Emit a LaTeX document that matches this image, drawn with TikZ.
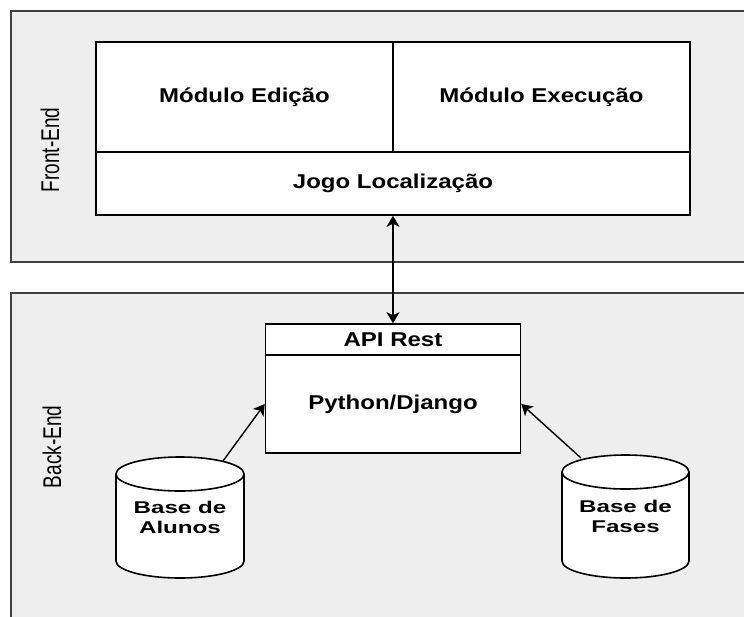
\documentclass[tikz,border=0pt]{standalone}
\usepackage{fontspec}
\usepackage{graphicx}
\setmainfont{Liberation Sans}
\usetikzlibrary{arrows.meta}
\definecolor{panelfill}{HTML}{EEEEEE}
\definecolor{panelline}{HTML}{404040}
\newcommand\wideA[1]{\scalebox{1.2}[1]{#1}}
\newcommand\wideB[1]{\scalebox{1.42}[1]{#1}}
\begin{document}
\begin{tikzpicture}[x=1pt,y=-1pt,
  panel/.style={fill=panelfill,draw=panelline,line width=1.5pt},
  box/.style={draw=black,fill=white,line width=1.6pt,inner sep=0pt,font=\bfseries\fontsize{20}{24}\selectfont},
  side/.style={inner sep=0pt,font=\fontsize{19}{22}\selectfont},
  cyl/.style={draw=black,fill=white,line width=1.6pt},
  cyltext/.style={inner sep=0pt,align=center,font=\bfseries\fontsize{17}{20}\selectfont},
  conn/.style={line width=1.4pt,draw=black},
  tip/.tip={Stealth[length=11pt,width=13pt,inset=3pt]}]
\useasboundingbox (0,0) rectangle (744,616);
\clip (0,0) rectangle (744,616);
% panels
\path[panel] (11,11) rectangle (760,262);
\path[panel] (11,293) rectangle (760,640);
\node[side] (fe) at (50,150) {\scalebox{1.35}[1]{\rotatebox{90}{Front-End}}};
\node[side] (be) at (52,447) {\scalebox{1.35}[1]{\rotatebox{90}{Back-End}}};
% front-end boxes
\node[box,minimum width=297pt,minimum height=110pt] (edicao) at (244.5,97) {\wideA{Módulo Edição}};
\node[box,minimum width=297pt,minimum height=110pt] (execucao) at (541.5,97) {\wideA{Módulo Execução}};
\node[box,minimum width=594pt,minimum height=63pt] (jogo) at (393,183.5) {\wideA{Jogo Localização}};
% back-end box
\node[box,minimum width=255pt,minimum height=31pt] (api) at (393,339.5) {\wideA{API Rest}};
\node[box,minimum width=255pt,minimum height=98pt] (python) at (393,404) {\wideA{Python/Django}};
% cylinders
\path[cyl] (116,474) -- (116,561) arc[start angle=180,end angle=0,x radius=64,y radius=17]
  -- (244,474) arc[start angle=0,end angle=-180,x radius=64,y radius=17] -- cycle;
\draw[line width=1.6pt] (116,474) arc[start angle=180,end angle=0,x radius=64,y radius=17];
\node[cyltext] (alunos) at (180,517) {\wideB{Base de}\\\wideB{Alunos}};
\path[cyl] (562,472) -- (562,561) arc[start angle=180,end angle=0,x radius=63.5,y radius=17]
  -- (689,472) arc[start angle=0,end angle=-180,x radius=63.5,y radius=17] -- cycle;
\draw[line width=1.6pt] (562,472) arc[start angle=180,end angle=0,x radius=63.5,y radius=17];
\node[cyltext] (fases) at (625.5,516) {\wideB{Base de}\\\wideB{Fases}};
\coordinate (alunosTop) at (223,461);
\coordinate (fasesTop) at (581,458);
% connectors
\draw[conn,{tip}-{tip}] (jogo.south) -- (api.north);
\draw[conn,-{tip}] (alunosTop) -- (python.west);
\draw[conn,-{tip}] (fasesTop) -- (python.east);
\end{tikzpicture}
\end{document}
